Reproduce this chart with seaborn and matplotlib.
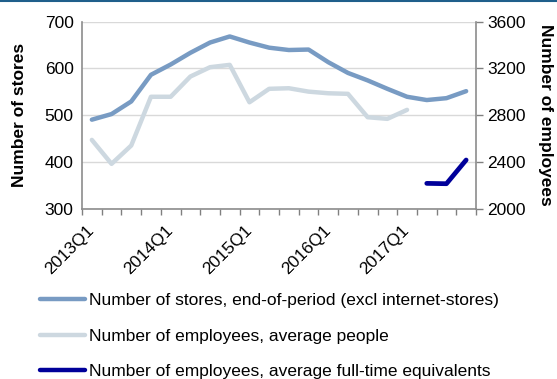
import numpy as np
import pandas as pd
import matplotlib
matplotlib.use("Agg")
import matplotlib.pyplot as plt
import seaborn as sns
from matplotlib.lines import Line2D

# quarters 2013Q1 .. 2017Q4
quarters = [f"{y}Q{q}" for y in range(2013, 2018) for q in range(1, 5)]

stores = [490, 502, 529, 586, 608, 633, 655, 668, 655, 644,
          639, 640, 613, 590, 574, 556, 539, 532, 536, 551]
employees = [2587, 2382, 2539, 2956, 2956, 3129, 3209, 3229, 2909, 3024,
             3029, 3000, 2986, 2981, 2781, 2767, 2844, np.nan, np.nan, np.nan]
fte = [np.nan] * 17 + [2215, 2212, 2415]

labels = ["Number of stores, end-of-period (excl internet-stores)",
          "Number of employees, average people",
          "Number of employees, average full-time equivalents"]
colors = ["#789BC3", "#CDD8E0", "#00009A"]

df = pd.DataFrame({"idx": np.arange(len(quarters)), "quarter": quarters,
                   "stores": stores, "employees": employees, "fte": fte})

sns.set_style("white")
plt.rcParams["font.family"] = ["Liberation Sans", "DejaVu Sans"]
plt.rcParams["text.color"] = "black"
plt.rcParams["axes.labelcolor"] = "black"
plt.rcParams["xtick.color"] = "black"
plt.rcParams["ytick.color"] = "black"
fs = 12.5

fig = plt.figure(figsize=(5.57, 3.79), dpi=100)
ax = fig.add_axes([82 / 557, 1 - 208.5 / 379, (476 - 82) / 557, (208.5 - 21.5) / 379])
ax2 = ax.twinx()

sns.lineplot(data=df, x="idx", y="stores", ax=ax, color=colors[0], lw=3.2)
sns.lineplot(data=df, x="idx", y="employees", ax=ax2, color=colors[1], lw=3.2)
sns.lineplot(data=df, x="idx", y="fte", ax=ax2, color=colors[2], lw=3.4,
             solid_capstyle="round")

ax.set_xlim(-0.5, len(quarters) - 0.5)
ax.set_ylim(300, 700)
ax2.set_ylim(2000, 3600)
ax.set_yticks([300, 400, 500, 600, 700])
ax2.set_yticks([2000, 2400, 2800, 3200, 3600])
ax.yaxis.grid(True, color="#D9D9D9", lw=1)
ax.set_axisbelow(True)

# category ticks between quarters, labels every year
ax.set_xticks(np.arange(len(quarters) + 1) - 0.5, minor=True)
ax.set_xticks(np.arange(0, len(quarters), 4))
ax.set_xticklabels(quarters[::4], rotation=45, ha="right", va="center",
                   rotation_mode="anchor", fontsize=fs)
ax.tick_params(axis="x", which="major", length=0, pad=14)
ax.tick_params(axis="x", which="minor", length=4, width=1, color="#808080",
               direction="out", bottom=True)
ax.tick_params(axis="y", length=0, labelsize=fs, pad=6)
ax2.tick_params(axis="y", length=5, width=1, color="#808080", labelsize=fs,
                pad=3, direction="out", right=True)

for a in (ax, ax2):
    for s in a.spines.values():
        s.set_visible(False)
ax.spines["left"].set_visible(True)
ax.spines["bottom"].set_visible(True)
ax2.spines["right"].set_visible(True)
for s in (ax.spines["left"], ax.spines["bottom"], ax2.spines["right"]):
    s.set_color("#8C8C8C")
    s.set_linewidth(1.2)

ax.set_xlabel("")
ax.set_ylabel("Number of stores", fontsize=fs, fontweight="bold", labelpad=13)
ax2.set_ylabel("Number of employees", fontsize=fs, fontweight="bold",
               rotation=270, labelpad=20)

handles = [Line2D([], [], color=c, lw=3.2) for c in colors]
fig.legend(handles, labels, loc="upper left", bbox_to_anchor=(40 / 557, 1 - 293 / 379),
           frameon=False, fontsize=fs, handlelength=2.6, handletextpad=0.2,
           labelspacing=1.17, borderpad=0, borderaxespad=0)

# thin dark border line at the top of the picture
fig.add_artist(Line2D([0, 1], [0.998, 0.998], color="#1F5F8B", lw=1.5,
                      transform=fig.transFigure))

fig.savefig("out.png", dpi=100)
